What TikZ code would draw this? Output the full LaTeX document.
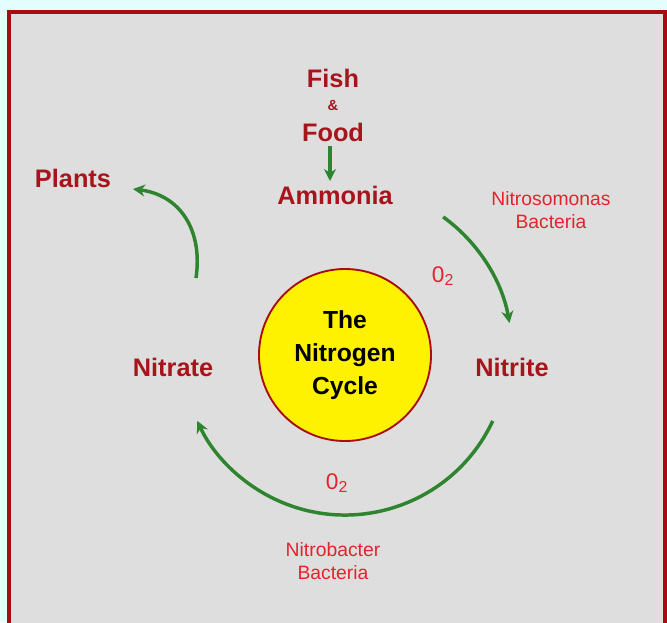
\documentclass[tikz,border=0pt]{standalone}
\usepackage{fontspec}
\setmainfont{Liberation Sans}
\usetikzlibrary{arrows.meta}
\definecolor{bgcyan}{HTML}{E2FEFE}
\definecolor{panel}{HTML}{DEDEDE}
\definecolor{framered}{HTML}{A80C10}
\definecolor{darkred}{HTML}{A8141C}
\definecolor{lightred}{HTML}{E4242C}
\definecolor{arrgreen}{HTML}{2F842F}
\begin{document}
\begin{tikzpicture}[x=0.75pt,y=-0.75pt,
  lab/.style={font=\fontsize{19}{22}\selectfont\bfseries, text=darkred, inner sep=0pt, anchor=base},
  amp/.style={font=\fontsize{11}{12}\selectfont\bfseries, text=darkred, inner sep=0pt, anchor=base},
  bac/.style={font=\fontsize{14.5}{17.2}\selectfont, text=lightred, align=center, inner sep=0pt, anchor=base},
  oxy/.style={font=\fontsize{17}{20}\selectfont, text=lightred, inner sep=0pt, anchor=base},
  arr/.style={draw=arrgreen, line width=2.6pt, -{Stealth[length=9pt,width=9pt]}},
  hub/.style={circle, draw=framered, fill=yellow, line width=1.4pt, minimum size=129pt, inner sep=0pt,
    align=center, font=\fontsize{18.5}{24.75}\selectfont\bfseries, text=black}]
\fill[bgcyan] (0,0) rectangle (667,622);
\useasboundingbox (0,0) rectangle (667,622);
\fill[panel] (9,12) rectangle (665,640);
\draw[framered, line width=3pt] (9,12) rectangle (665,640);

\node[lab] (fish) at (333,87) {Fish};
\node[amp] (amp) at (333,110) {\&};
\node[lab] (food) at (333,141) {Food};
\node[lab] (ammonia) at (335,204) {Ammonia};
\node[lab] (plants) at (73,187) {Plants};
\node[lab] (nitrate) at (173,376) {Nitrate};
\node[lab] (nitrite) at (512,376) {Nitrite};
\node[bac] (nsom) at (551,228) {Nitrosomonas\\Bacteria};
\node[bac] (nbac) at (333,579) {Nitrobacter\\Bacteria};
\node[oxy] (o2a) at (443,282) {0\textsubscript{2}};
\node[oxy] (o2b) at (337,489) {0\textsubscript{2}};
\node[hub] (cycle) at (345,355) {The\\Nitrogen\\Cycle};

\coordinate (C) at (345,352);
\coordinate (f1) at (330,146);
\coordinate (f2) at (330,181);
\draw[arr] (f1) -- (f2);
\draw[arr] ([shift={(-54:167)}]C) arc[start angle=-54, end angle=-10, radius=167];
\draw[arr] ([shift={(25:163)}]C) arc[start angle=25, end angle=155, radius=163];
\coordinate (p1) at (196,278);
\coordinate (p2) at (133,189);
\draw[arr] (p1) .. controls (203,230) and (180,195) .. (p2);
\end{tikzpicture}
\end{document}
